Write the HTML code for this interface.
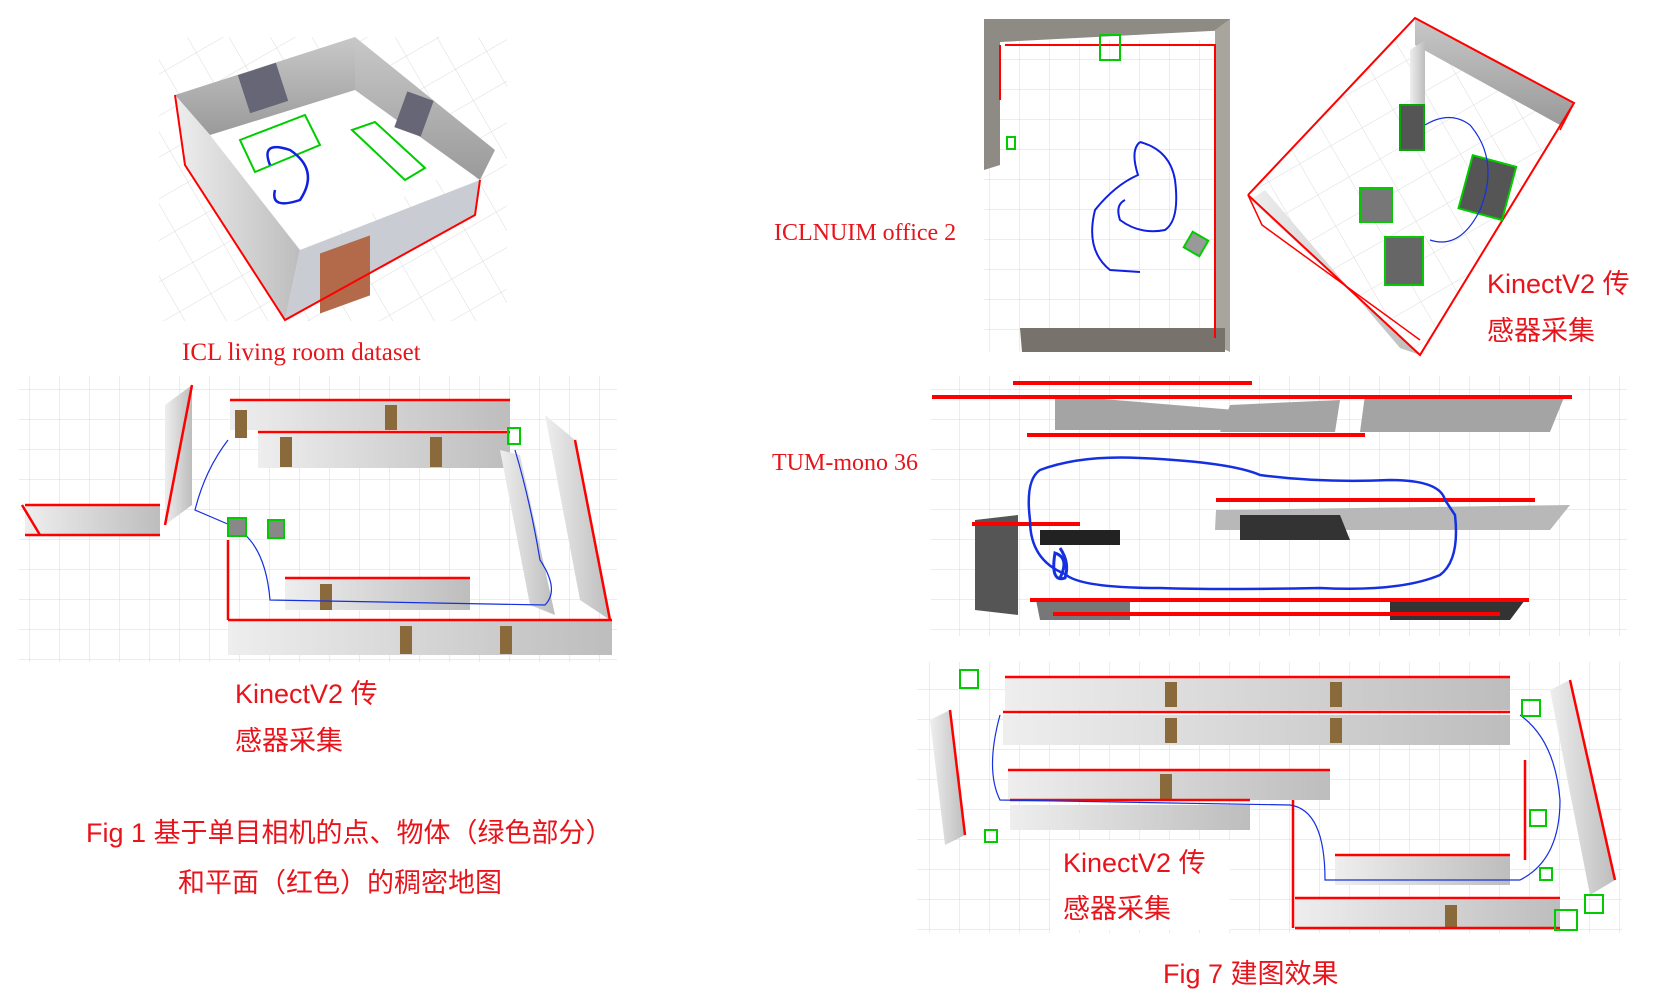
<!DOCTYPE html>
<html><head><meta charset="utf-8"><style>
html,body{margin:0;padding:0;background:#fff;}
svg{display:block}
.s{font-family:"Liberation Serif","Noto Serif CJK SC",serif;fill:#e8141c}
.k{font-family:"Liberation Sans","Noto Sans CJK SC",sans-serif;fill:#e8141c}
</style></head><body>
<svg width="1656" height="996" viewBox="0 0 1656 996" xmlns="http://www.w3.org/2000/svg">
<defs>
<pattern id="g" width="30" height="30" patternUnits="userSpaceOnUse"><path d="M30 0V30H0" fill="none" stroke="#d8d8d8" stroke-width="1"/></pattern>
<pattern id="g2" width="36" height="36" patternUnits="userSpaceOnUse" patternTransform="rotate(-30)"><path d="M36 0V36H0" fill="none" stroke="#dcdcdc" stroke-width="1"/></pattern>
<linearGradient id="w" x1="0" y1="0" x2="0" y2="1"><stop offset="0" stop-color="#c8c8c8"/><stop offset="1" stop-color="#9a9a9a"/></linearGradient>
<linearGradient id="w2" x1="0" y1="0" x2="1" y2="0"><stop offset="0" stop-color="#eeeeee"/><stop offset="1" stop-color="#bdbdbd"/></linearGradient>
</defs>

<!-- Living room -->
<rect x="159" y="37" width="348" height="284" fill="url(#g2)"/>
<polygon points="175,95 355,37 495,150 300,250" fill="#fff"/>
<polygon points="175,95 355,37 355,90 210,135" fill="url(#w)"/>
<polygon points="355,37 495,150 480,180 355,90" fill="url(#w)"/>
<polygon points="175,95 210,135 300,250 285,320 185,165" fill="url(#w2)"/>
<polygon points="300,250 480,180 475,215 285,320" fill="#c9ccd2"/>
<rect x="320" y="255" width="50" height="60" fill="#b36a4a" transform="skewY(-20) translate(0,115)"/>
<polyline points="175,95 185,165 285,320 475,215 480,180" fill="none" stroke="#f00" stroke-width="2"/>
<polygon points="240,140 305,115 320,145 255,172" fill="none" stroke="#0c0" stroke-width="2"/>
<polygon points="352,130 375,122 425,168 405,180" fill="none" stroke="#0c0" stroke-width="2"/>
<path d="M270,165 Q260,140 290,150 Q320,170 300,200 Q270,210 275,190" fill="none" stroke="#1020e0" stroke-width="2.5"/>
<rect x="243" y="68" width="40" height="40" fill="#667" transform="rotate(-18 263 88)"/>
<rect x="400" y="95" width="28" height="38" fill="#667" transform="rotate(20 414 114)"/>
<text class="s" x="182" y="360" font-size="25">ICL living room dataset</text>

<!-- Left hallway -->
<rect x="19" y="376" width="598" height="286" fill="url(#g)"/>
<polygon points="230,400 510,400 510,430 230,430" fill="url(#w2)"/>
<polygon points="258,432 510,432 510,468 258,468" fill="url(#w2)"/>
<polygon points="285,578 470,578 470,610 285,610" fill="url(#w2)"/>
<polygon points="228,620 612,620 612,655 228,655" fill="url(#w2)"/>
<polygon points="165,405 192,385 192,505 165,525" fill="url(#w2)"/>
<polygon points="25,505 160,505 160,535 25,535" fill="url(#w2)"/>
<polygon points="545,415 575,440 610,620 580,600" fill="url(#w2)"/>
<polygon points="500,450 520,455 555,615 530,605" fill="url(#w2)"/>
<g fill="#8a6a3a"><rect x="235" y="410" width="12" height="28"/><rect x="385" y="405" width="12" height="25"/><rect x="430" y="437" width="12" height="30"/><rect x="320" y="584" width="12" height="26"/><rect x="400" y="626" width="12" height="28"/><rect x="500" y="626" width="12" height="28"/><rect x="280" y="437" width="12" height="30"/></g>
<g stroke="#f00" stroke-width="2.5" fill="none">
<path d="M230,400H510M258,432H510M285,578H470M228,620H612M25,505H160M25,535H160M165,525L192,385M575,440L610,620M228,620V540M22,505L40,535"/>
</g>
<path d="M228,440 Q205,470 195,510 L230,525 Q265,540 270,600 L545,605 Q560,590 540,560 Q530,500 515,450" fill="none" stroke="#1530e0" stroke-width="1.2"/>
<rect x="228" y="518" width="18" height="18" fill="#888" stroke="#0c0" stroke-width="2"/>
<rect x="268" y="520" width="16" height="18" fill="#888" stroke="#0c0" stroke-width="2"/>
<rect x="508" y="428" width="12" height="16" fill="none" stroke="#0c0" stroke-width="2"/>
<text class="k" x="235" y="703" font-size="27">KinectV2 传</text>
<text class="k" x="235" y="750" font-size="27">感器采集</text>
<text class="k" x="86" y="842" font-size="27">Fig 1 基于单目相机的点、物体（绿色部分）</text>
<text class="k" x="178" y="892" font-size="27">和平面（红色）的稠密地图</text>

<!-- ICLNUIM office -->
<rect x="984" y="40" width="246" height="312" fill="url(#g)"/>
<polygon points="984,19 1230,19 1230,30 1000,42 1000,165 984,170" fill="#8e8a84"/>
<polygon points="1215,30 1230,19 1230,352 1215,345" fill="#a8a49e"/>
<polygon points="1020,328 1225,328 1225,352 1022,352" fill="#77736c"/>
<path d="M1005,45H1215V338M1000,45V100" fill="none" stroke="#f00" stroke-width="2"/>
<rect x="1100" y="35" width="20" height="25" fill="none" stroke="#0c0" stroke-width="2"/>
<rect x="1007" y="137" width="8" height="12" fill="none" stroke="#0c0" stroke-width="2"/>
<rect x="1187" y="235" width="18" height="18" fill="#999" stroke="#0c0" stroke-width="2" transform="rotate(30 1196 244)"/>
<path d="M1140,142 Q1130,150 1138,175 Q1115,185 1095,210 Q1085,250 1110,270 L1140,272 M1140,142 Q1170,150 1175,180 Q1180,220 1165,230 Q1140,235 1120,220 Q1115,205 1125,200" fill="none" stroke="#1020e0" stroke-width="2"/>
<text class="s" x="774" y="240" font-size="24">ICLNUIM office 2</text>

<!-- Kinect room -->
<polygon points="1248,195 1415,18 1574,103 1420,355" fill="url(#g2)"/>
<polygon points="1415,18 1574,103 1560,125 1415,45" fill="url(#w)"/>
<polygon points="1250,200 1265,190 1400,348 1420,355" fill="url(#w2)"/>
<polygon points="1410,50 1425,40 1425,130 1410,140" fill="url(#w2)"/>
<polyline points="1248,195 1415,18 1574,103 1420,355 1248,195" fill="none" stroke="#f00" stroke-width="2"/>
<path d="M1248,195 L1262,225 L1420,340 M1574,103 L1560,130" fill="none" stroke="#f00" stroke-width="1.5"/>
<rect x="1400" y="105" width="24" height="45" fill="#555" stroke="#0a0" stroke-width="2"/>
<rect x="1360" y="188" width="32" height="34" fill="#777" stroke="#0c0" stroke-width="2"/>
<rect x="1465" y="160" width="45" height="55" fill="#555" stroke="#0c0" stroke-width="2" transform="rotate(15 1487 187)"/>
<rect x="1385" y="237" width="38" height="48" fill="#666" stroke="#0c0" stroke-width="2"/>
<path d="M1425,125 Q1450,110 1470,125 Q1500,160 1480,210 Q1460,250 1430,240" fill="none" stroke="#1530e0" stroke-width="1.2"/>
<text class="k" x="1487" y="293" font-size="27">KinectV2 传</text>
<text class="k" x="1487" y="340" font-size="27">感器采集</text>

<!-- TUM -->
<rect x="931" y="376" width="696" height="260" fill="url(#g)"/>
<g fill="#a4a4a4">
<polygon points="1055,395 1055,430 1270,430 1235,410"/>
<polygon points="1365,395 1565,395 1550,432 1360,432"/>
<polygon points="1230,405 1340,400 1335,432 1220,432"/>
<polygon points="1216,510 1570,505 1550,530 1215,530" fill="#b8b8b8"/>
<polygon points="1240,515 1340,515 1350,540 1240,540" fill="#333"/>
<polygon points="1040,530 1120,530 1120,545 1040,545" fill="#222"/>
<polygon points="975,520 1018,515 1018,615 975,610" fill="#555"/>
<polygon points="1036,600 1130,600 1130,620 1040,620" fill="#777"/>
<polygon points="1390,600 1525,600 1510,620 1390,620" fill="#333"/>
</g>
<g stroke="#f00" stroke-width="4" fill="none">
<path d="M1013,383H1252M932,397H1572M1027,435H1365M1216,500H1535M1030,600H1529M1053,614H1500M972,524H1080"/>
</g>
<path d="M1065,574 Q1030,560 1030,520 Q1025,480 1040,470 Q1080,455 1140,458 Q1230,462 1260,475 Q1320,483 1390,480 Q1440,480 1445,500 L1455,515 Q1460,560 1440,575 Q1400,592 1320,588 Q1220,590 1160,588 Q1080,588 1065,574" fill="none" stroke="#1530e0" stroke-width="2.5"/>
<path d="M1060,548 q10,15 5,30 q-15,5 -10,-25 q15,5 5,25" fill="none" stroke="#1530e0" stroke-width="3"/>
<text class="s" x="772" y="470" font-size="24">TUM-mono 36</text>

<!-- bottom-right hallway -->
<rect x="917" y="662" width="705" height="271" fill="url(#g)"/>
<g fill="url(#w2)">
<polygon points="1005,677 1510,677 1510,710 1005,710"/>
<polygon points="1003,715 1510,715 1510,745 1003,745"/>
<polygon points="1008,770 1330,770 1330,800 1008,800"/>
<polygon points="1010,805 1250,805 1250,830 1010,830"/>
<polygon points="1335,855 1510,855 1510,885 1335,885"/>
<polygon points="1295,900 1560,900 1560,928 1295,928"/>
<polygon points="1550,690 1570,680 1615,880 1590,895"/>
<polygon points="930,720 950,710 965,835 945,845"/>
</g>
<g fill="#8a6a3a"><rect x="1165" y="682" width="12" height="25"/><rect x="1330" y="682" width="12" height="25"/><rect x="1165" y="718" width="12" height="25"/><rect x="1330" y="718" width="12" height="25"/><rect x="1160" y="774" width="12" height="25"/><rect x="1445" y="905" width="12" height="23"/></g>
<g stroke="#f00" stroke-width="2.5" fill="none">
<path d="M1005,677H1510M1003,712H1510M1008,770H1330M1010,800H1250M1335,855H1510M1295,898H1560M1295,928H1560M1570,680L1615,880M950,710L965,835M1293,800V928M1525,760V860"/>
</g>
<path d="M1000,715 Q985,770 1000,800 L1290,805 Q1325,810 1325,880 L1520,880 Q1560,860 1560,800 Q1555,740 1520,715" fill="none" stroke="#1530e0" stroke-width="1.2"/>
<g fill="none" stroke="#0c0" stroke-width="2">
<rect x="960" y="670" width="18" height="18"/><rect x="985" y="830" width="12" height="12"/><rect x="1522" y="700" width="18" height="16"/><rect x="1530" y="810" width="16" height="16"/><rect x="1540" y="868" width="12" height="12"/><rect x="1585" y="895" width="18" height="18"/><rect x="1555" y="910" width="22" height="20"/>
</g>
<rect x="1050" y="840" width="180" height="90" fill="#fff"/>
<text class="k" x="1063" y="872" font-size="27">KinectV2 传</text>
<text class="k" x="1063" y="918" font-size="27">感器采集</text>
<text class="k" x="1163" y="983" font-size="27">Fig 7 建图效果</text>
</svg>
</body></html>
